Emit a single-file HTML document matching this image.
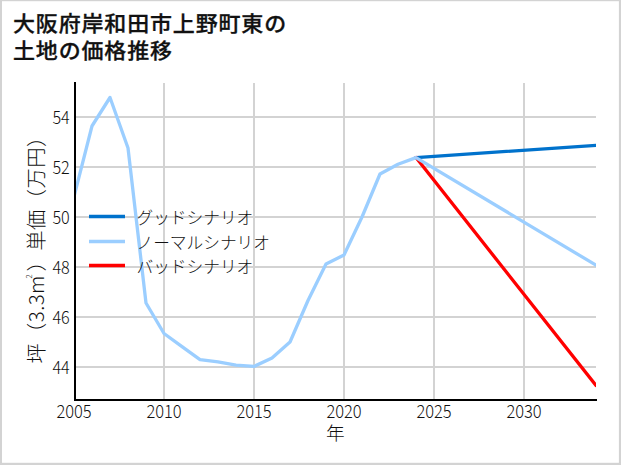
<!DOCTYPE html>
<html><head><meta charset="utf-8"><style>
html,body{margin:0;padding:0;background:#fff;}
body{width:621px;height:465px;overflow:hidden;}
svg{display:block;}
.t{font-family:'Noto Sans CJK JP','Liberation Sans',sans-serif;}
</style></head><body>
<svg width="621" height="465" viewBox="0 0 621 465">
<rect x="0" y="0" width="621" height="465" fill="#fff"/>
<defs><clipPath id="ax"><rect x="74" y="83" width="522" height="317"/></clipPath></defs>
<g stroke="#d3d3d3" stroke-width="2" fill="none">
<line x1="164" y1="83" x2="164" y2="400"/><line x1="254" y1="83" x2="254" y2="400"/><line x1="344" y1="83" x2="344" y2="400"/><line x1="434" y1="83" x2="434" y2="400"/><line x1="524" y1="83" x2="524" y2="400"/>
<line x1="74" y1="367" x2="596" y2="367"/><line x1="74" y1="317" x2="596" y2="317"/><line x1="74" y1="267" x2="596" y2="267"/><line x1="74" y1="217" x2="596" y2="217"/><line x1="74" y1="167" x2="596" y2="167"/><line x1="74" y1="117" x2="596" y2="117"/>
</g>
<g clip-path="url(#ax)" fill="none" stroke-width="3.3" stroke-linejoin="round" stroke-linecap="round">
<polyline points="416,157.6 596,145.3" stroke="#0072CC"/>
<polyline points="416,157.6 596,385.5" stroke="#ff0000"/>
<polyline points="74,196.7 92,126 110,97.5 128,148 146,303 164,333.5 182,346.6 200,359.7 218,361.9 236,365.1 254,366.4 272,357.9 290,342 308,300.5 326,264 344,255 362,217 380,174 398,164.3 416,157.6 596,265.2" stroke="#9BCEFF"/>
</g>
<g fill="none" stroke-width="3.3" stroke-linecap="butt">
<line x1="89" y1="216.5" x2="125" y2="216.5" stroke="#0072CC"/>
<line x1="89" y1="241.5" x2="125" y2="241.5" stroke="#9BCEFF"/>
<line x1="89" y1="265.5" x2="125" y2="265.5" stroke="#ff0000"/>
</g>
<g class="t" font-size="16.7" fill="#111" font-weight="300">
<text x="136.5" y="223.5">グッドシナリオ</text>
<text x="136.5" y="248.5">ノーマルシナリオ</text>
<text x="136.5" y="272.5">バッドシナリオ</text>
</g>
<path d="M75,83 V400 H596" fill="none" stroke="#000" stroke-width="2" stroke-linecap="square"/>
<g class="t" font-size="18" fill="#111" font-weight="300" text-anchor="end">
<text transform="translate(69.7,373.5) scale(0.9,1)">44</text><text transform="translate(69.7,323.5) scale(0.9,1)">46</text><text transform="translate(69.7,273.5) scale(0.9,1)">48</text><text transform="translate(69.7,223.5) scale(0.9,1)">50</text><text transform="translate(69.7,173.5) scale(0.9,1)">52</text><text transform="translate(69.7,123.5) scale(0.9,1)">54</text>
</g>
<g class="t" font-size="18" fill="#111" font-weight="300" text-anchor="middle">
<text transform="translate(74,418) scale(0.915,1)">2005</text><text transform="translate(164,418) scale(0.915,1)">2010</text><text transform="translate(254,418) scale(0.915,1)">2015</text><text transform="translate(344,418) scale(0.915,1)">2020</text><text transform="translate(434,418) scale(0.915,1)">2025</text><text transform="translate(524,418) scale(0.915,1)">2030</text>
<text x="335.3" y="440.4" font-size="18.7">年</text>
</g>
<text class="t" font-size="20.3" fill="#111" font-weight="300" letter-spacing="0.45" text-anchor="middle" transform="translate(44,245) rotate(-90)">坪（3.3m<tspan font-size="8" dx="-3.3" dy="-12.5">2</tspan><tspan dx="2.3" dy="12.5">）単価（万円）</tspan></text>
<g font-size="22" fill="#111" stroke="#111" stroke-width="0.3" letter-spacing="0.85" style="font-family:'Noto Sans CJK JP Medium','Noto Sans CJK JP',sans-serif;font-weight:500">
<text transform="translate(13,31.2) scale(1,0.95)">大阪府岸和田市上野町東の</text>
<text transform="translate(13,58.3) scale(1,0.95)">土地の価格推移</text>
</g>
<g fill="#d3d3d3"><rect x="0" y="0" width="2" height="465"/><rect x="0" y="0" width="621" height="1.2"/><rect x="618.9" y="0" width="2.1" height="465"/><rect x="0" y="462.8" width="621" height="2.2"/></g>
</svg>
</body></html>
